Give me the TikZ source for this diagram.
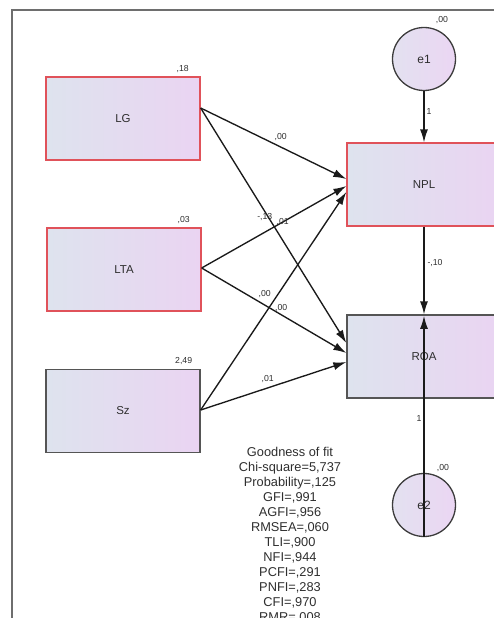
\documentclass[tikz,border=0pt]{standalone}
\usepackage{fontspec}
\setmainfont{Liberation Sans}
\usetikzlibrary{arrows.meta}
\definecolor{boxl}{HTML}{DEE3EE}
\definecolor{boxr}{HTML}{EAD4F2}
\definecolor{errl}{HTML}{E3E1F0}
\definecolor{errr}{HTML}{EBD6F3}
\definecolor{selred}{HTML}{E0525A}
\definecolor{boxgray}{HTML}{555555}
\definecolor{errgray}{HTML}{3C3C3C}
\definecolor{framegray}{HTML}{6E6E6E}
\definecolor{txt}{HTML}{2E2E2E}
\definecolor{linecol}{HTML}{1A1A1A}

\begin{document}
\begin{tikzpicture}[x=1pt, y=-1pt,
    >={Latex[length=13pt,width=8pt]},
    obs/.style={draw=boxgray, line width=1.3pt, minimum width=154pt, minimum height=83pt,
        left color=boxl, right color=boxr, text=txt, font=\fontsize{11.5}{13}\selectfont},
    sel/.style={obs, draw=selred},
    err/.style={circle, draw=errgray, line width=1.3pt, minimum size=63pt, inner sep=0pt,
        left color=errl, right color=errr, text=txt, font=\fontsize{12}{14}\selectfont},
    lbl/.style={text=txt, inner sep=0.5pt, font=\fontsize{8.7}{10}\selectfont},
    path/.style={->, line width=1.35pt, draw=linecol}]
                        \useasboundingbox (0,0) rectangle (494,618);
                        \clip (0,0) rectangle (494,618);
                        \draw[framegray, line width=1.4pt] (12,618) |- (494,10);

                        \node[sel] (lg) at (123, 118.5) {LG};
                        \node[sel] (lta) at (124, 269.5) {LTA};
                        \node[obs] (sz) at (123, 411) {Sz};
                        \node[sel] (npl) at (424, 184.5) {NPL};
                        \node[obs] (roa) at (424, 356.5) {ROA};
                        \node[err] (e1) at (424, 59) {e1};
                        \node[err] (e2) at (424, 505) {e2};

                        \node[lbl, xshift=-18pt, yshift=7pt] (lgvar) at (lg.north east) {,18};
                        \node[lbl, xshift=-18pt, yshift=7pt] (ltavar) at (lta.north east) {,03};
                        \node[lbl, xshift=-17pt, yshift=8pt] (szvar) at (sz.north east) {2,49};
                        \node[lbl, xshift=18pt, yshift=7pt] (e1var) at (e1.north) {,00};
                        \node[lbl, xshift=19pt, yshift=5pt] (e2var) at (e2.north) {,00};

                        \draw
                        ([yshift=10.5pt]lg.east) edge[path] node[lbl, pos=.55, yshift=10pt] (lgnpl) {,00} ([yshift=5.5pt]npl.west)
                        ([yshift=10.5pt]lg.east) edge[path] node[lbl, pos=.44, yshift=-6pt] (lgroa) {-,13} ([yshift=13.5pt]roa.west)
                        ([yshift=1.5pt]lta.east) edge[path] node[lbl, pos=.56] (ltanpl) {,01} ([yshift=-1.5pt]npl.west)
                        ([yshift=1.5pt]lta.east) edge[path] node[lbl, pos=.55, yshift=7pt] (ltaroa) {,00} ([yshift=3.5pt]roa.west)
                        ([yshift=1pt]sz.east) edge[path] node[lbl, pos=.44, yshift=20pt] (sznpl) {,00} ([yshift=-7.5pt]npl.west)
                        ([yshift=1pt]sz.east) edge[path] node[lbl, pos=.46, yshift=9pt] (szroa) {,01} ([yshift=-5.5pt]roa.west)
                        (e1) edge[path] node[lbl, pos=.4, xshift=5pt] (e1npl) {1} (npl)
                        (npl) edge[path] node[lbl, pos=.42, xshift=11pt] (nplroa) {-,10} (roa)
                        (e2.south) edge[path] node[lbl, pos=.536, xshift=-5pt] (e2roa) {1} ([yshift=-1.5pt]roa.north);

                        \node[anchor=north, align=center, inner sep=0pt, text=txt,
                            font=\fontsize{12.8}{15}\selectfont] (gof) at (290, 447)
                            {Goodness of fit\\Chi-square=5,737\\Probability=,125\\GFI=,991\\AGFI=,956\\RMSEA=,060\\TLI=,900\\NFI=,944\\PCFI=,291\\PNFI=,283\\CFI=,970\\RMR=,008};
                    \end{tikzpicture}
\end{document}
